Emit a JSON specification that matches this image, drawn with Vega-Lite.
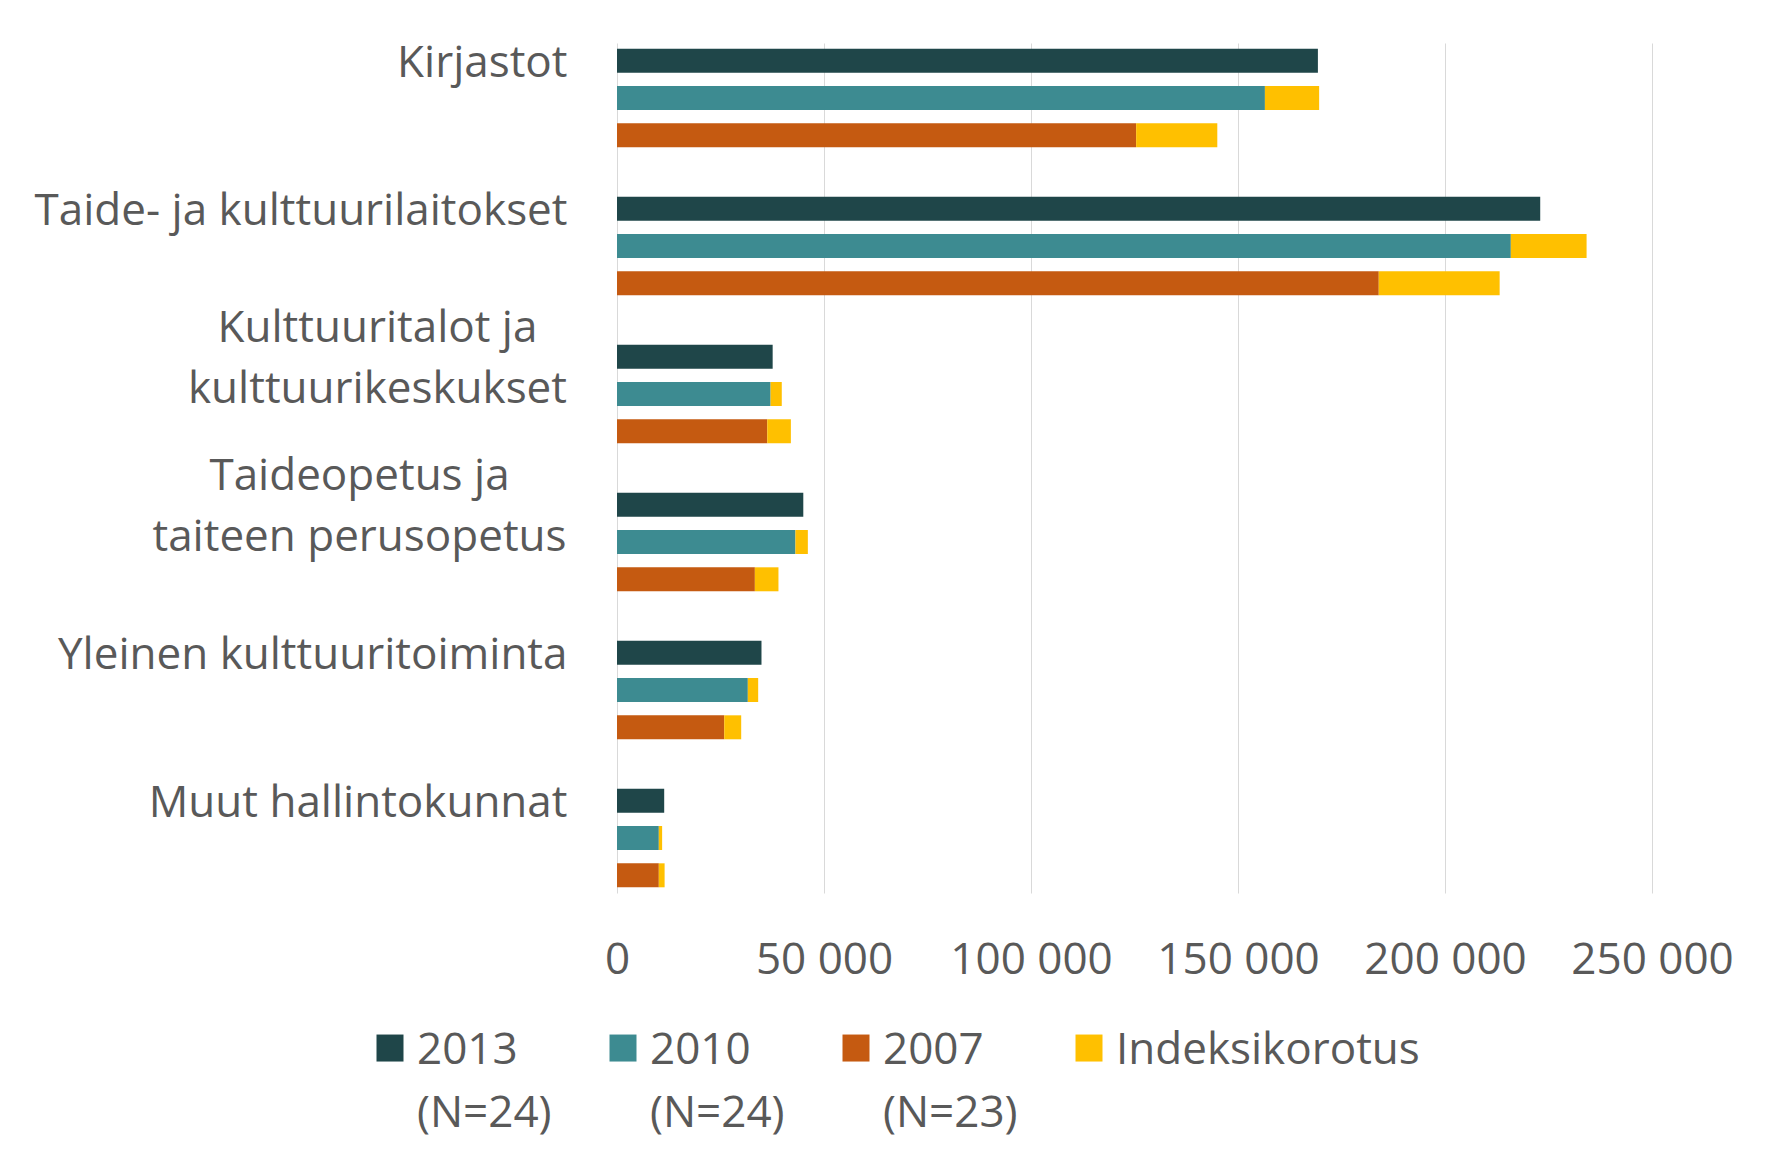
{
  "$schema": "https://vega.github.io/schema/vega-lite/v6.json",
  "width": 1035,
  "height": 850,
  "autosize": {"type": "none"},
  "padding": {"left": 617, "top": 43, "right": 119, "bottom": 268},
  "background": "white",
  "data": {
    "values": [
      {"category": "Kirjastot", "year": "2013", "part": 1, "legend": "2013 (N=24)", "value": 169300},
      {"category": "Kirjastot", "year": "2010", "part": 1, "legend": "2010 (N=24)", "value": 156500},
      {"category": "Kirjastot", "year": "2010", "part": 2, "legend": "Indeksikorotus", "value": 13100},
      {"category": "Kirjastot", "year": "2007", "part": 1, "legend": "2007 (N=23)", "value": 125400},
      {"category": "Kirjastot", "year": "2007", "part": 2, "legend": "Indeksikorotus", "value": 19600},
      {"category": "Taide- ja kulttuurilaitokset", "year": "2013", "part": 1, "legend": "2013 (N=24)", "value": 223000},
      {"category": "Taide- ja kulttuurilaitokset", "year": "2010", "part": 1, "legend": "2010 (N=24)", "value": 215900},
      {"category": "Taide- ja kulttuurilaitokset", "year": "2010", "part": 2, "legend": "Indeksikorotus", "value": 18300},
      {"category": "Taide- ja kulttuurilaitokset", "year": "2007", "part": 1, "legend": "2007 (N=23)", "value": 184000},
      {"category": "Taide- ja kulttuurilaitokset", "year": "2007", "part": 2, "legend": "Indeksikorotus", "value": 29200},
      {"category": "Kulttuuritalot ja\nkulttuurikeskukset", "year": "2013", "part": 1, "legend": "2013 (N=24)", "value": 37600},
      {"category": "Kulttuuritalot ja\nkulttuurikeskukset", "year": "2010", "part": 1, "legend": "2010 (N=24)", "value": 37100},
      {"category": "Kulttuuritalot ja\nkulttuurikeskukset", "year": "2010", "part": 2, "legend": "Indeksikorotus", "value": 2700},
      {"category": "Kulttuuritalot ja\nkulttuurikeskukset", "year": "2007", "part": 1, "legend": "2007 (N=23)", "value": 36300},
      {"category": "Kulttuuritalot ja\nkulttuurikeskukset", "year": "2007", "part": 2, "legend": "Indeksikorotus", "value": 5700},
      {"category": "Taideopetus ja\ntaiteen perusopetus", "year": "2013", "part": 1, "legend": "2013 (N=24)", "value": 45000},
      {"category": "Taideopetus ja\ntaiteen perusopetus", "year": "2010", "part": 1, "legend": "2010 (N=24)", "value": 43100},
      {"category": "Taideopetus ja\ntaiteen perusopetus", "year": "2010", "part": 2, "legend": "Indeksikorotus", "value": 3000},
      {"category": "Taideopetus ja\ntaiteen perusopetus", "year": "2007", "part": 1, "legend": "2007 (N=23)", "value": 33300},
      {"category": "Taideopetus ja\ntaiteen perusopetus", "year": "2007", "part": 2, "legend": "Indeksikorotus", "value": 5700},
      {"category": "Yleinen kulttuuritoiminta", "year": "2013", "part": 1, "legend": "2013 (N=24)", "value": 34900},
      {"category": "Yleinen kulttuuritoiminta", "year": "2010", "part": 1, "legend": "2010 (N=24)", "value": 31600},
      {"category": "Yleinen kulttuuritoiminta", "year": "2010", "part": 2, "legend": "Indeksikorotus", "value": 2500},
      {"category": "Yleinen kulttuuritoiminta", "year": "2007", "part": 1, "legend": "2007 (N=23)", "value": 25900},
      {"category": "Yleinen kulttuuritoiminta", "year": "2007", "part": 2, "legend": "Indeksikorotus", "value": 4100},
      {"category": "Muut hallintokunnat", "year": "2013", "part": 1, "legend": "2013 (N=24)", "value": 11400},
      {"category": "Muut hallintokunnat", "year": "2010", "part": 1, "legend": "2010 (N=24)", "value": 10100},
      {"category": "Muut hallintokunnat", "year": "2010", "part": 2, "legend": "Indeksikorotus", "value": 800},
      {"category": "Muut hallintokunnat", "year": "2007", "part": 1, "legend": "2007 (N=23)", "value": 10100},
      {"category": "Muut hallintokunnat", "year": "2007", "part": 2, "legend": "Indeksikorotus", "value": 1400}
    ]
  },
  "mark": {"type": "bar"},
  "encoding": {
    "y": {
      "field": "category",
      "type": "nominal",
      "sort": ["Kirjastot", "Taide- ja kulttuurilaitokset", "Kulttuuritalot ja\nkulttuurikeskukset", "Taideopetus ja\ntaiteen perusopetus", "Yleinen kulttuuritoiminta", "Muut hallintokunnat"],
      "scale": {"paddingInner": 0.334, "paddingOuter": 0.0385},
      "axis": {
        "title": null,
        "domain": false,
        "ticks": false,
        "tickSize": 0,
        "grid": false,
        "labelFont": "Open Sans",
        "labelFontSize": 44,
        "labelColor": "#595959",
        "labelLimit": 0,
        "labelLineHeight": 61,
        "labelExpr": "split(datum.label, '\\n')",
        "labelOffset": {"condition": {"test": "indexof(datum.value, '\\n') >= 0", "value": -65}, "value": -34},
        "labelAlign": {"condition": {"test": "indexof(datum.value, '\\n') >= 0", "value": "center"}, "value": "right"},
        "labelPadding": {"condition": [
          {"test": "indexof(datum.value, 'Kulttuuritalot') >= 0", "value": 240},
          {"test": "indexof(datum.value, 'Taideopetus') >= 0", "value": 258}
        ], "value": 50}
      }
    },
    "yOffset": {
      "field": "year",
      "type": "nominal",
      "sort": ["2013", "2010", "2007"],
      "scale": {"paddingInner": 0.357, "paddingOuter": 0}
    },
    "x": {
      "field": "value",
      "type": "quantitative",
      "stack": "zero",
      "scale": {"domain": [0, 250000], "nice": false},
      "axis": {
        "title": null,
        "domain": false,
        "ticks": false,
        "tickSize": 0,
        "grid": true,
        "gridColor": "#d9d9d9",
        "gridWidth": 1,
        "values": [0, 50000, 100000, 150000, 200000, 250000],
        "labelExpr": "replace(format(datum.value, ','), ',', ' ')",
        "labelFont": "Open Sans",
        "labelFontSize": 44,
        "labelColor": "#595959",
        "labelPadding": 45,
        "labelFlush": false,
        "labelOverlap": false
      }
    },
    "color": {
      "field": "legend",
      "type": "nominal",
      "scale": {
        "domain": ["2013 (N=24)", "2010 (N=24)", "2007 (N=23)", "Indeksikorotus"],
        "range": ["#1f4649", "#3d8b91", "#c55a11", "#ffc000"]
      },
      "legend": {
        "orient": "none",
        "legendX": -249,
        "legendY": 964,
        "direction": "horizontal",
        "title": null,
        "padding": 0,
        "symbolType": "M-1,0.41H1V2.41H-1Z",
        "symbolSize": 729,
        "symbolStrokeWidth": 0,
        "labelFont": "Open Sans",
        "labelFontSize": 44,
        "labelColor": "#595959",
        "labelOffset": 5,
        "labelLimit": 0,
        "columnPadding": 49,
        "labelExpr": "datum.label == 'Indeksikorotus' ? ['Indeksikorotus', ' '] : split(datum.label, ' ')",
        "labelBaseline": "top"
      }
    },
    "order": {"field": "part", "type": "quantitative"}
  },
  "config": {
    "style": {"guide-label": {"lineHeight": 63}},
    "view": {"stroke": null}
  }
}
